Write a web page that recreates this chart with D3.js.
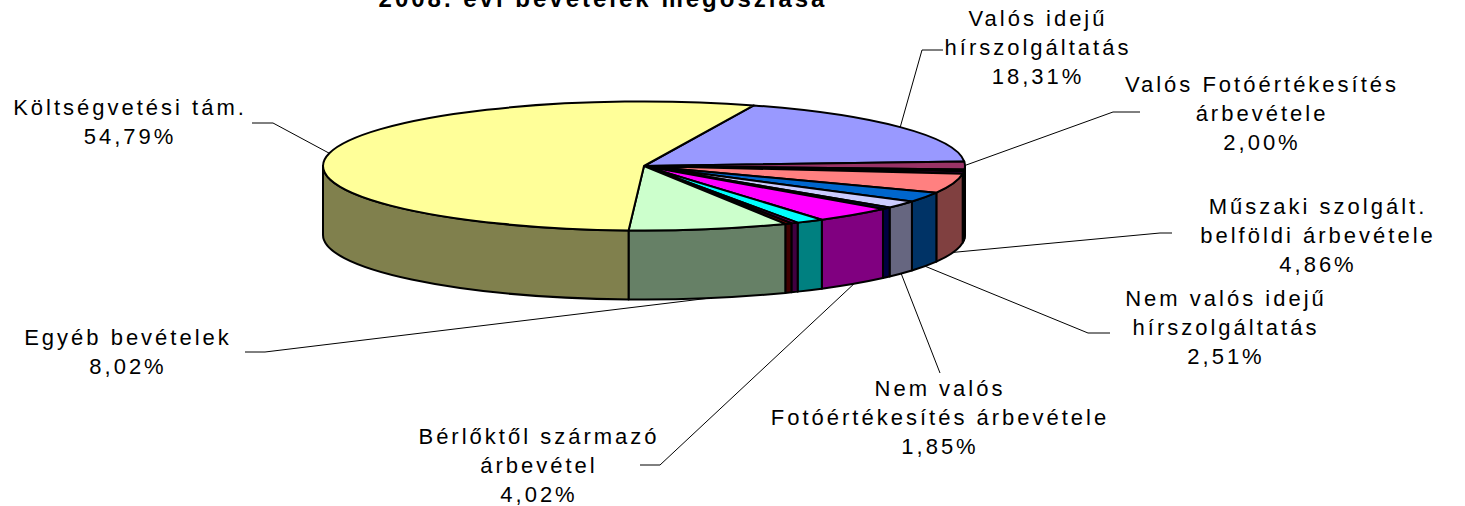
<!DOCTYPE html>
<html>
<head>
<meta charset="utf-8">
<script src="https://cdn.jsdelivr.net/npm/d3@7"></script>
<style>
  body { margin: 0; background: #fff; }
  svg { display: block; }
  text { font-family: "Liberation Sans", Arial, sans-serif; }
</style>
</head>
<body>
<div id="chart"></div>
<script>
// slices, clockwise from the first one (Excel "first slice angle" 20 deg)
var names = [
  "Valós idejű\nhírszolgáltatás",
  "Valós Fotóértékesítés\nárbevétele",
  null,
  null,
  "Műszaki szolgált.\nbelföldi árbevétele",
  "Nem valós idejű\nhírszolgáltatás",
  "Nem valós\nFotóértékesítés árbevétele",
  null,
  "Bérlőktől származó\nárbevétel",
  null,
  null,
  null,
  "Egyéb bevételek",
  "Költségvetési tám."
];
var values = [18.31, 2.00, 0.45, 0.60, 4.86, 2.51, 1.85, 0.50, 4.02, 1.40, 0.35, 0.34, 8.02, 54.79];
var colors = ["#9999FF", "#993366", "#FFFFCC", "#660066", "#FF8080", "#0066CC", "#CCCCFF",
              "#000080", "#FF00FF", "#00FFFF", "#800080", "#800000", "#CCFFCC", "#FFFF99"];

// where each data label sits: text centre x, first baseline, and the elbow of its leader
var labelPos = {
  0:  {x: 1038, y: 26,  elbow: [[943, 50], [922, 50]]},
  1:  {x: 1262, y: 92,  elbow: [[1140, 112], [1113, 112]]},
  4:  {x: 1318, y: 214, elbow: [[1172, 233], [1160, 233]]},
  5:  {x: 1226, y: 306, elbow: [[1110, 333], [1088, 333]]},
  6:  {x: 940,  y: 396, elbow: [[940, 373]]},
  8:  {x: 539,  y: 444, elbow: [[640, 465], [660, 465]]},
  12: {x: 128,  y: 345, elbow: [[245, 352], [265, 352]]},
  13: {x: 130,  y: 115, elbow: [[252, 123], [273, 123]]}
};

var width = 1465, height = 506;
var cx = 644, cy = 166, rx = 321, ry = 64.5, depth = 69;

var svg = d3.select("#chart").append("svg")
    .attr("width", width)
    .attr("height", height);

var data = values.map((v, i) => ({name: names[i], value: v, color: colors[i], index: i}));
var total = d3.sum(values);

var pie = d3.pie()
    .sort(null)
    .value(d => d.value)
    .startAngle(20 * Math.PI / 180)
    .endAngle(380 * Math.PI / 180);

var arcs = pie(data);

// point on the (tilted) rim for a pie angle, 0 = 12 o'clock, clockwise
function px(a) { return cx + rx * Math.sin(a); }
function py(a, h) { return cy - ry * Math.cos(a) + (h || 0); }

function topPath(d) {
  var a0 = d.startAngle, a1 = d.endAngle;
  var large = (a1 - a0) > Math.PI ? 1 : 0;
  return "M" + cx + "," + cy +
    "L" + px(a0) + "," + py(a0) +
    "A" + rx + "," + ry + " 0 " + large + " 1 " + px(a1) + "," + py(a1) + "Z";
}

function sidePath(d) {
  var s0 = Math.max(d.startAngle, Math.PI / 2);
  var s1 = Math.min(d.endAngle, Math.PI * 1.5);
  if (s1 <= s0) return null;
  return "M" + px(s0) + "," + py(s0) +
    "A" + rx + "," + ry + " 0 0 1 " + px(s1) + "," + py(s1) +
    "L" + px(s1) + "," + py(s1, depth) +
    "A" + rx + "," + ry + " 0 0 0 " + px(s0) + "," + py(s0, depth) + "Z";
}

function darker(c) {
  var rgb = d3.rgb(c);
  return d3.rgb(rgb.r * 0.5, rgb.g * 0.5, rgb.b * 0.5).toString();
}

var pieG = svg.append("g");

pieG.selectAll("path.side")
  .data(arcs.filter(d => sidePath(d) !== null))
  .join("path")
    .attr("class", "side")
    .attr("d", sidePath)
    .attr("fill", d => darker(d.data.color))
    .attr("stroke", "#000")
    .attr("stroke-width", 2)
    .attr("stroke-linejoin", "round");

pieG.selectAll("path.top")
  .data(arcs)
  .join("path")
    .attr("class", "top")
    .attr("d", topPath)
    .attr("fill", d => d.data.color)
    .attr("stroke", "#000")
    .attr("stroke-width", 2)
    .attr("stroke-linejoin", "round");

// title (mostly cut off by the top edge)
svg.append("text")
    .attr("x", 603)
    .attr("y", 7)
    .attr("text-anchor", "middle")
    .style("font-size", "24px")
    .style("font-weight", "bold")
    .style("letter-spacing", "3px")
    .text("2008. évi bevételek megoszlása");

// data labels with leader lines
var fmt = d3.format(".2f");
var labelled = arcs.filter(d => d.data.name !== null);

function anchor(d) {
  var a = (d.startAngle + d.endAngle) / 2;
  var front = Math.cos(a) < 0;
  return [px(a), py(a, front ? depth : 0)];
}

svg.selectAll("path.leader")
  .data(labelled)
  .join("path")
    .attr("class", "leader")
    .attr("d", d => d3.line()(labelPos[d.data.index].elbow.concat([anchor(d)])))
    .attr("fill", "none")
    .attr("stroke", "#000")
    .attr("stroke-width", 1);

var labels = svg.selectAll("text.label")
  .data(labelled)
  .join("text")
    .attr("class", "label")
    .attr("text-anchor", "middle")
    .style("font-size", "22px")
    .style("letter-spacing", "3px")
    .attr("fill", "#000");

labels.each(function(d) {
  var pos = labelPos[d.data.index];
  var lines = d.data.name.split("\n");
  lines.push(fmt(d.data.value / total * 100).replace(".", ",") + "%");
  d3.select(this).selectAll("tspan")
    .data(lines)
    .join("tspan")
      .attr("x", pos.x)
      .attr("y", (l, i) => pos.y + i * 29)
      .text(l => l);
});
</script>
</body>
</html>
